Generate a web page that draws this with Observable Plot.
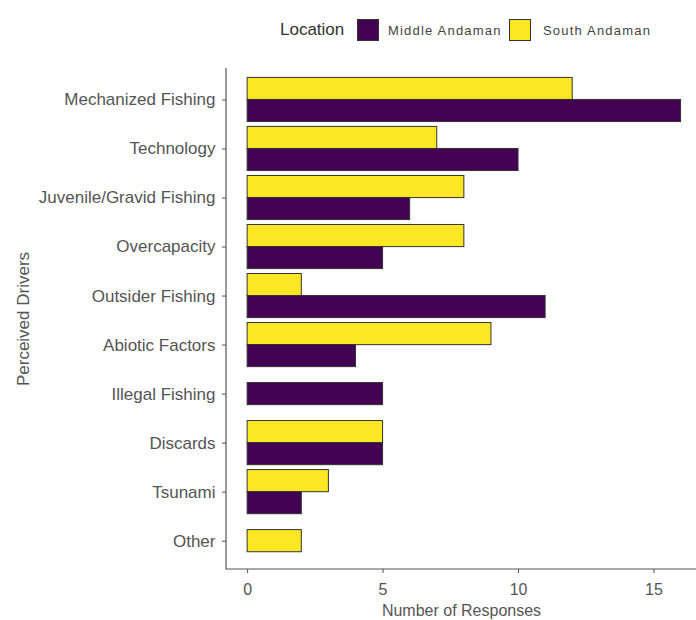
<!DOCTYPE html>
<html>
<head>
<meta charset="utf-8">
<script src="https://cdn.jsdelivr.net/npm/d3@7"></script>
<script src="https://cdn.jsdelivr.net/npm/@observablehq/plot@0.6"></script>
<style>
  html, body { margin: 0; padding: 0; background: #fff; }
  body { width: 696px; height: 620px; overflow: hidden; font-family: "Liberation Sans", Arial, sans-serif; }
  #legend { position: relative; height: 58px; width: 696px; }
  #legend .title { position: absolute; left: 280px; top: 20px; font-size: 17px; color: #333; }
  #legend .sw { position: absolute; top: 19px; width: 22px; height: 22px; box-sizing: border-box; border: 1px solid #333; }
  #legend .lab { position: absolute; top: 23px; font-size: 13px; letter-spacing: 1.2px; color: #444; }
</style>
</head>
<body>
<div id="legend"></div>
<div id="chart"></div>
<script>
const drivers = ["Mechanized Fishing", "Technology", "Juvenile/Gravid Fishing", "Overcapacity", "Outsider Fishing", "Abiotic Factors", "Illegal Fishing", "Discards", "Tsunami", "Other"];
const southAndaman = [12, 7, 8, 8, 2, 9, 0, 5, 3, 2];
const middleAndaman = [16, 10, 6, 5, 11, 4, 5, 5, 2, 0];
const locations = ["Middle Andaman", "South Andaman"];
const colors = ["#440154", "#FDE725"];
const xTicks = [0, 5, 10, 15];

const rows = drivers.flatMap((d, i) => [
  {driver: d, location: "South Andaman", value: southAndaman[i]},
  {driver: d, location: "Middle Andaman", value: middleAndaman[i]}
]).filter(r => r.value > 0);
const count = d3.rollup(rows, v => v.length, r => r.driver);
const paired = rows.filter(r => count.get(r.driver) === 2);
const single = rows.filter(r => count.get(r.driver) === 1);

// legend
const legend = document.getElementById("legend");
legend.innerHTML = `<span class="title">Location</span>` +
  `<span class="sw" style="left:357px;background:${colors[0]}"></span>` +
  `<span class="lab" style="left:388px">${locations[0]}</span>` +
  `<span class="sw" style="left:509px;background:${colors[1]}"></span>` +
  `<span class="lab" style="left:543px">${locations[1]}</span>`;

function axisLines(index, scales, values, dims) {
  const ns = "http://www.w3.org/2000/svg";
  const g = document.createElementNS(ns, "g");
  const left = dims.marginLeft, right = dims.width - dims.marginRight;
  const top = dims.marginTop, bottom = dims.height - dims.marginBottom;
  const l1 = document.createElementNS(ns, "path");
  l1.setAttribute("d", `M${left},${top}V${bottom}H${right}`);
  l1.setAttribute("fill", "none");
  l1.setAttribute("stroke", "#555");
  l1.setAttribute("stroke-width", "1.2");
  g.appendChild(l1);
  return g;
}

const common = {x: "value", y: "driver", fill: "location", stroke: "#333", strokeWidth: 1};

const chart = Plot.plot({
  width: 696,
  height: 562,
  marginLeft: 226,
  marginRight: 0,
  marginTop: 10,
  marginBottom: 51,
  style: {fontFamily: "Liberation Sans, Arial, sans-serif", background: "#fff"},
  x: {domain: [-0.78, 16.57]},
  y: {domain: drivers, paddingInner: 0.1, paddingOuter: 0.16, align: 0.6, round: false},
  color: {domain: locations, range: colors},
  marks: [
    Plot.barX(paired.filter(r => r.location === "South Andaman"), {...common, insetBottom: 22}),
    Plot.barX(paired.filter(r => r.location === "Middle Andaman"), {...common, insetTop: 22}),
    Plot.barX(single, {...common, insetTop: 11, insetBottom: 11}),
    axisLines,
    Plot.axisY({tickSize: 4, tickPadding: 7, fontSize: 17, color: "#555", label: "Perceived Drivers", labelAnchor: "center", labelOffset: 210, labelArrow: "none"}),
    Plot.axisX({ticks: xTicks, tickSize: 4, tickPadding: 10, fontSize: 16, color: "#555", label: "Number of Responses", labelAnchor: "center", labelOffset: 46, labelArrow: "none"})
  ]
});
document.getElementById("chart").appendChild(chart);
</script>
</body>
</html>
